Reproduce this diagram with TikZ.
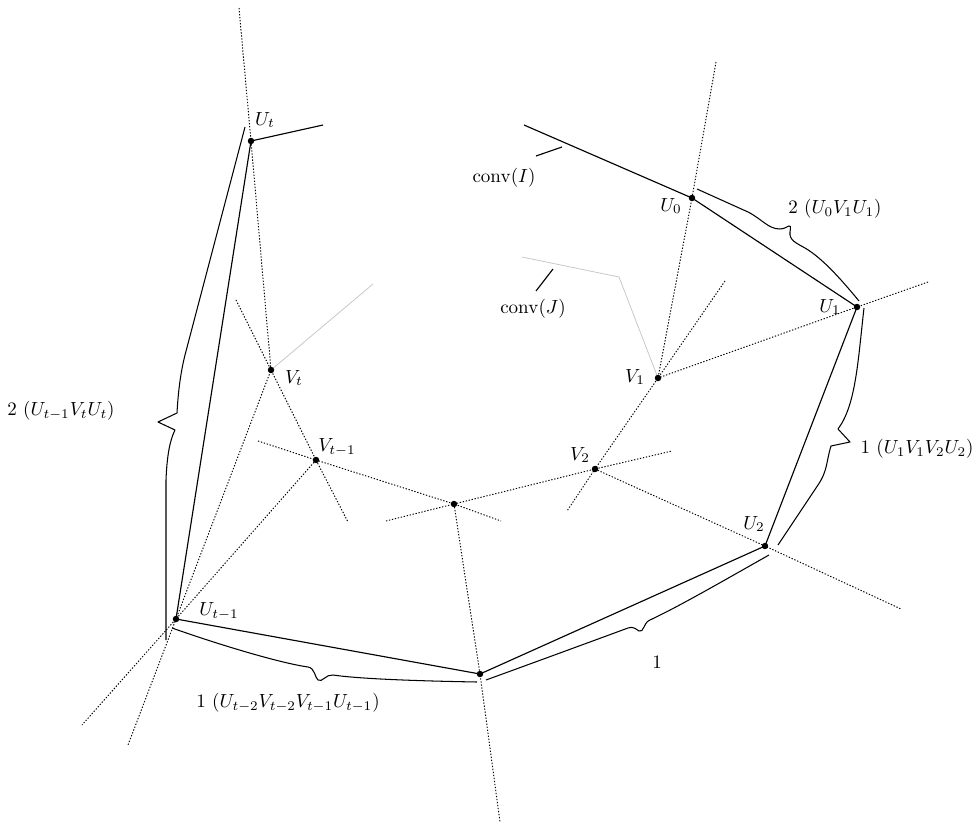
\documentclass[tikz,border=0pt]{standalone}
\begin{document}
\begin{tikzpicture}[x=0.0185cm,y=-0.0185cm,
  dotline/.style={line width=0.5pt,dash pattern=on 0.7pt off 0.9pt},
  solidline/.style={line width=0.6pt},
  bracepen/.style={line width=0.55pt,line join=round},
  grayline/.style={line width=0.4pt,gray!45},
  ptdot/.style={circle,fill=black,inner sep=0pt,minimum size=3.4pt},
  lbl/.style={inner sep=1pt}]
\useasboundingbox (0,0) rectangle (976,825);
% main points
\coordinate (Ut) at (251,141);
\coordinate (Vt) at (271,370);
\coordinate (Vt1) at (316,460);
\coordinate (W) at (454,504);
\coordinate (V2) at (595,469);
\coordinate (V1) at (658,378);
\coordinate (U0) at (692,198);
\coordinate (U1) at (857,307);
\coordinate (U2) at (765,546);
\coordinate (X) at (480,674);
\coordinate (Ut1) at (176,619);
% free ends
\coordinate (a1) at (239,8);
\coordinate (a2) at (323,125);
\coordinate (a3) at (236,300);
\coordinate (a4) at (348,522);
\coordinate (a5) at (373,284);
\coordinate (a6) at (128,745);
\coordinate (a7) at (82,725);
\coordinate (a8) at (258,441);
\coordinate (a9) at (501,521);
\coordinate (a10) at (386,521);
\coordinate (a11) at (672,451);
\coordinate (a12) at (500,822);
\coordinate (a13) at (725,281);
\coordinate (a14) at (567,511);
\coordinate (a15) at (716,62);
\coordinate (a16) at (928,282);
\coordinate (a17) at (901,609);
\coordinate (a18) at (524,125);
\coordinate (J1) at (522,257);
\coordinate (J2) at (619,277);
% gray conv(J)
\draw[grayline] (J1) -- (J2) -- (V1);
\draw[grayline] (Vt) -- (a5);
% dotted lines
\draw[dotline] (a1) -- (Ut) -- (Vt) -- (Ut1) -- (a6);
\draw[dotline] (a3) -- (Vt) -- (Vt1) -- (a4);
\draw[dotline] (Vt1) -- (Ut1) -- (a7);
\draw[dotline] (a8) -- (Vt1) -- (W) -- (a9);
\draw[dotline] (a10) -- (W) -- (V2) -- (a11);
\draw[dotline] (W) -- (X) -- (a12);
\draw[dotline] (a13) -- (V1) -- (V2) -- (a14);
\draw[dotline] (a15) -- (U0) -- (V1);
\draw[dotline] (a16) -- (U1) -- (V1);
\draw[dotline] (V2) -- (U2) -- (a17);
% solid polygon
\draw[solidline] (a18) -- (U0) -- (U1) -- (U2) -- (X) -- (Ut1) -- (Ut) -- (a2);
% pointers
\coordinate (pI1) at (536,156);
\coordinate (pI2) at (562,147);
\coordinate (pJ1) at (536,291);
\coordinate (pJ2) at (553,269);
\draw[solidline] (pI1) -- (pI2);
\draw[solidline] (pJ1) -- (pJ2);
% braces
% B1: U0 -- U1
\draw[bracepen] (697,189) -- (748,212) .. controls (762,219) and (768,229) .. (780,229)
  .. controls (788,229) and (792,220) .. (790,232)
  .. controls (789,240) and (796,243) .. (805,248)
  .. controls (822,258) and (840,278) .. (859,301);
% B2: U1 -- U2
\draw[bracepen] (864,308) .. controls (858,360) and (856,405) .. (838,429)
  -- (850,442) -- (831,446)
  .. controls (826,462) and (828,470) .. (818,485) -- (778,545);
% B3: U2 -- X
\draw[bracepen] (769,555) .. controls (730,577) and (680,606) .. (650,620)
  .. controls (643,623) and (644,633) .. (639,631)
  .. controls (636,630) and (635,626) .. (628,628)
  .. controls (590,642) and (530,664) .. (486,680);
% B4: X -- Ut1
\draw[bracepen] (477,682) .. controls (420,681) and (360,679) .. (333,675)
  .. controls (326,674) and (322,683) .. (318,680)
  .. controls (315,678) and (315,668) .. (308,667)
  .. controls (280,663) and (220,645) .. (172,628);
% B5: Ut1 -- Ut
\draw[bracepen] (245,127) -- (185,355) .. controls (180,375) and (178,395) .. (177,413)
  -- (158,422) -- (175,430)
  .. controls (170,440) and (167,455) .. (166,480) -- (166,640);
% dots
\foreach \p in {Ut,Vt,Vt1,W,V2,V1,U0,U1,U2,X,Ut1}
  \node[ptdot] (d\p) at (\p) {};
% labels
\node[lbl] (lUt) at (265,120) {$U_t$};
\node[lbl] (lVt) at (294,378) {$V_t$};
\node[lbl] (lVt1) at (337,447) {$V_{t-1}$};
\node[lbl] (lUt1) at (219,611) {$U_{t-1}$};
\node[lbl] (lV2) at (580,455) {$V_2$};
\node[lbl] (lV1) at (635,377) {$V_1$};
\node[lbl] (lU0) at (671,206) {$U_0$};
\node[lbl] (lU1) at (830,307) {$U_1$};
\node[lbl] (lU2) at (754,524) {$U_2$};
\node[lbl] (lI) at (504,178) {$\mathrm{conv}(I)$};
\node[lbl] (lJ) at (533,309) {$\mathrm{conv}(J)$};
\node[lbl] (lb1) at (835,209) {$2\ (U_0V_1U_1)$};
\node[lbl] (lb2) at (917,449) {$1\ (U_1V_1V_2U_2)$};
\node[lbl] (lb3) at (657,662) {$1$};
\node[lbl] (lb4) at (288,703) {$1\ (U_{t-2}V_{t-2}V_{t-1}U_{t-1})$};
\node[lbl] (lb5) at (61,411) {$2\ (U_{t-1}V_tU_t)$};
\end{tikzpicture}
\end{document}
